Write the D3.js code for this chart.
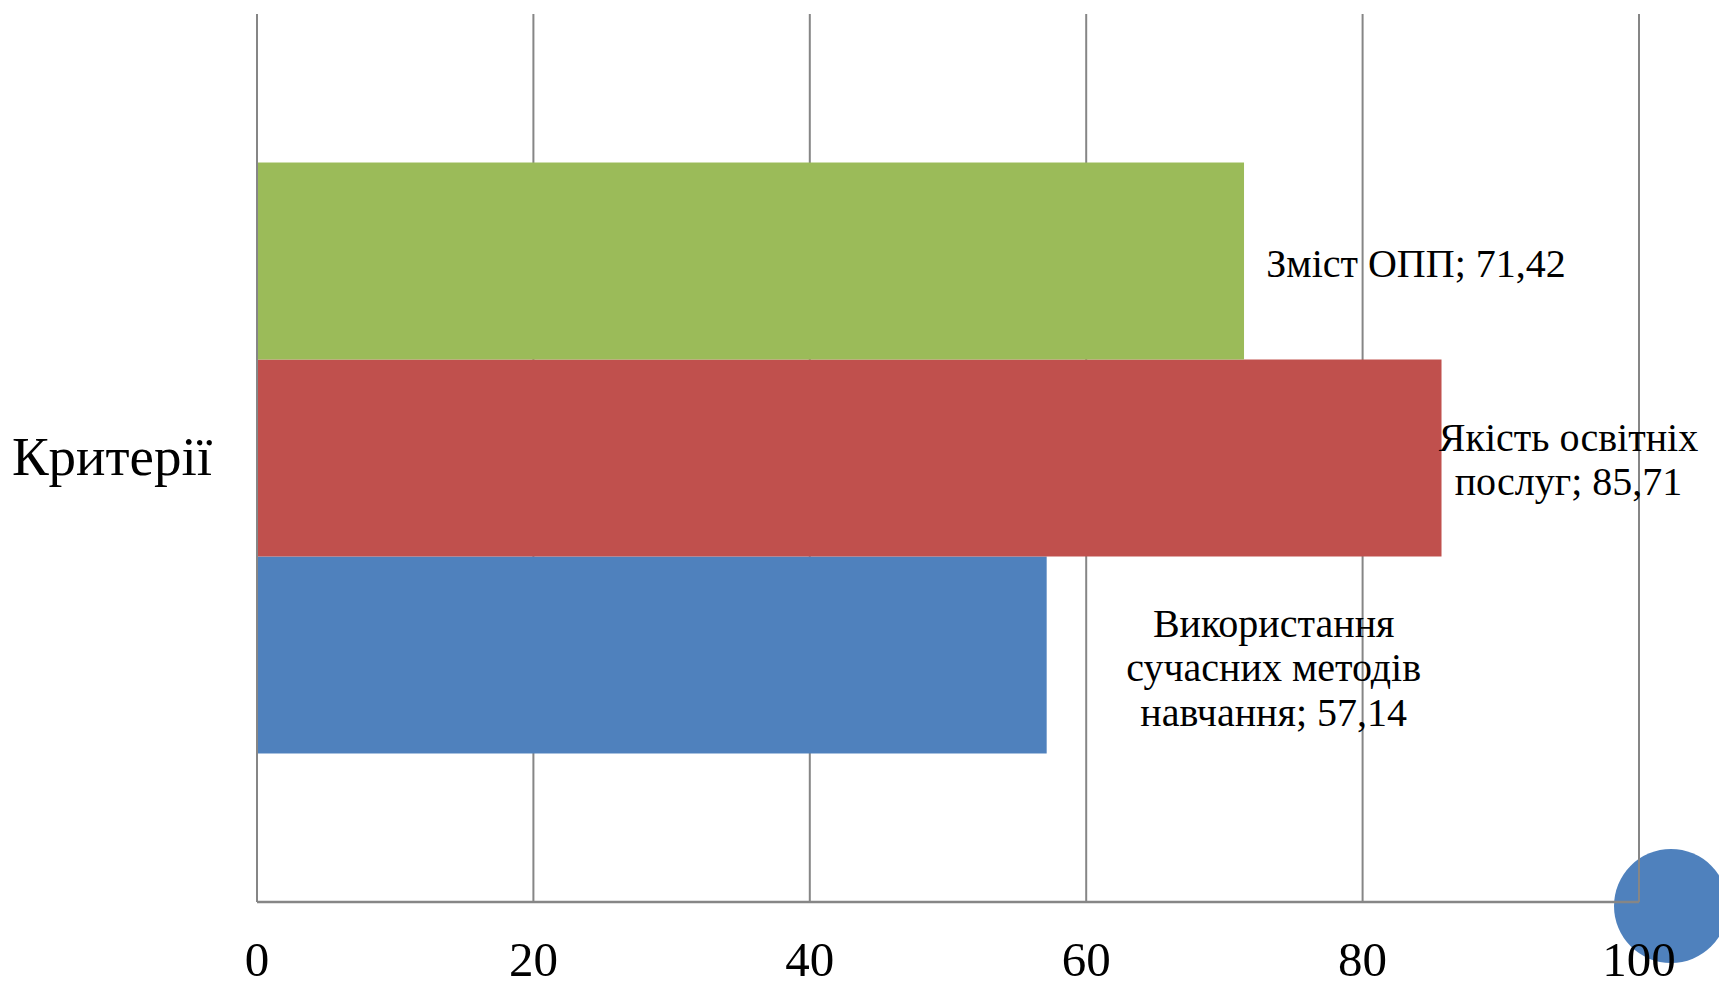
<!DOCTYPE html>
<html>
<head>
<meta charset="utf-8">
<script src="https://cdn.jsdelivr.net/npm/d3@7"></script>
<style>
  html, body { margin: 0; padding: 0; background: #ffffff; }
  svg { display: block; }
  text { font-family: "Liberation Serif", "DejaVu Serif", serif; fill: #000; }
</style>
</head>
<body>
<svg id="chart" width="1719" height="986"></svg>
<script>
// ---- Data ----
const categories = ["Критерії"];
const seriesNames = ["Використання сучасних методів навчання", "Якість освітніх послуг", "Зміст ОПП"];
const seriesLabelLines = [["Використання", "сучасних методів", "навчання"], ["Якість освітніх", "послуг"], ["Зміст ОПП"]];
const seriesValues = [57.14, 85.71, 71.42];
const seriesColors = ["#4f81bd", "#c0504d", "#9bbb59"];
const xTicks = [0, 20, 40, 60, 80, 100];

// ---- Layout ----
const W = 1719, H = 986;
const plot = { left: 257, right: 1639, top: 14, bottom: 902 };
const labelOffsets = [{ dx: 227, dy: 13 }, { dx: 127, dy: 2 }, { dx: 172, dy: 3 }];
const labelFont = 40, lineH = 44.5;

const svg = d3.select("#chart");

const x = d3.scaleLinear().domain([0, 100]).range([plot.left, plot.right]);
const y = d3.scaleBand().domain(categories).range([plot.top, plot.bottom]).paddingInner(0).paddingOuter(0.2513);
const ySeries = d3.scaleBand().domain(d3.range(seriesNames.length).reverse()).range([0, y.bandwidth()]).padding(0);

// decorative circle (behind chart)
svg.append("circle")
  .attr("cx", 1671).attr("cy", 906).attr("r", 57)
  .attr("fill", "#4f81bd");

// gridlines
svg.append("g").selectAll("line").data(xTicks).join("line")
  .attr("x1", d => x(d)).attr("x2", d => x(d))
  .attr("y1", plot.top).attr("y2", plot.bottom)
  .attr("stroke", "#868686").attr("stroke-width", 2);

// bars
const rows = seriesNames.map((n, i) => ({ i, name: n, value: seriesValues[i], color: seriesColors[i], lines: seriesLabelLines[i] }));
const cat = categories[0];
svg.append("g").selectAll("rect").data(rows).join("rect")
  .attr("x", x(0) + 1)
  .attr("y", d => y(cat) + ySeries(d.i))
  .attr("width", d => x(d.value) - x(0) - 1)
  .attr("height", ySeries.bandwidth())
  .attr("fill", d => d.color);

// x axis line
svg.append("line")
  .attr("x1", x(0)).attr("x2", x(100))
  .attr("y1", plot.bottom).attr("y2", plot.bottom)
  .attr("stroke", "#868686").attr("stroke-width", 2.5);

// x tick labels
svg.append("g").selectAll("text").data(xTicks).join("text")
  .attr("x", d => x(d)).attr("y", 976)
  .attr("text-anchor", "middle")
  .attr("font-size", 49)
  .text(d => d);

// category label
svg.append("text")
  .attr("x", 112).attr("y", y(cat) + y.bandwidth() / 2 + 17)
  .attr("text-anchor", "middle")
  .attr("font-size", 55)
  .text(cat);

// data labels
const fmt = v => d3.format(".2f")(v).replace(".", ",");
rows.forEach(d => {
  const off = labelOffsets[d.i];
  const cx = x(d.value) + off.dx;
  const cy = y(cat) + ySeries(d.i) + ySeries.bandwidth() / 2 + off.dy;
  const lines = d.lines.slice();
  lines[lines.length - 1] = lines[lines.length - 1] + "; " + fmt(d.value);
  const n = lines.length;
  const t = svg.append("text")
    .attr("text-anchor", "middle")
    .attr("font-size", labelFont);
  lines.forEach((ln, k) => {
    t.append("tspan")
      .attr("x", cx)
      .attr("y", cy + (k - (n - 1) / 2) * lineH + labelFont * 0.33)
      .text(ln);
  });
});
</script>
</body>
</html>
